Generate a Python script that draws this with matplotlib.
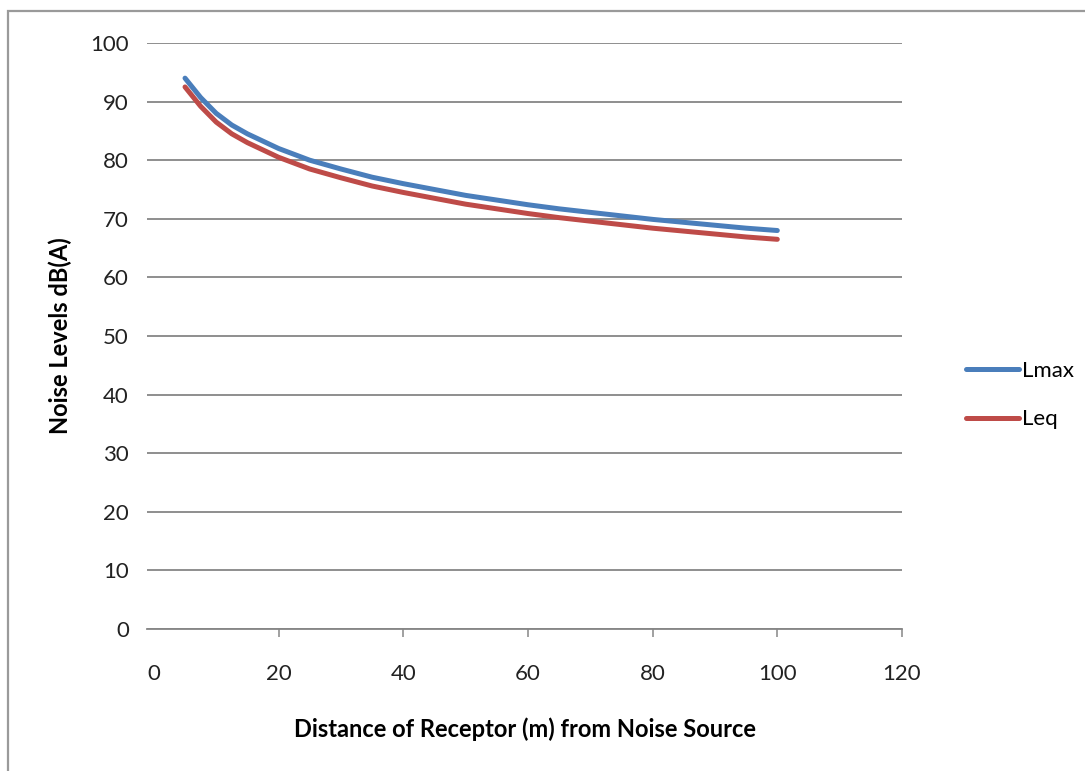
import matplotlib
matplotlib.use("Agg")
import matplotlib.pyplot as plt
from matplotlib.patches import Rectangle

# Data
distance = [5, 7.5, 10, 12.5, 15, 20, 25, 30, 35, 40, 45, 50, 55, 60, 65, 70, 75, 80, 85, 90, 95, 100]
lmax = [94.0, 90.7, 88.0, 86.0, 84.5, 82.0, 80.0, 78.5, 77.1, 76.0, 75.0, 74.0,
        73.2, 72.4, 71.7, 71.1, 70.5, 69.9, 69.4, 68.9, 68.4, 68.0]
leq = [92.5, 89.2, 86.5, 84.5, 83.0, 80.5, 78.5, 77.0, 75.6, 74.5, 73.5, 72.5,
       71.7, 70.9, 70.2, 69.6, 69.0, 68.4, 67.9, 67.4, 66.9, 66.5]
x_ticks = [0, 20, 40, 60, 80, 100, 120]
y_ticks = [0, 10, 20, 30, 40, 50, 60, 70, 80, 90, 100]
series_names = ["Lmax", "Leq"]

plt.rcParams['font.family'] = ['Lato', 'DejaVu Sans']

W, H = 1085, 771
fig = plt.figure(figsize=(W / 100, H / 100), dpi=100)
ax = fig.add_axes([147 / W, 1 - 629 / H, (902 - 147) / W, (629 - 43) / H])

blue = "#4A7EBB"
red = "#BE4B48"
ax.plot(distance, lmax, color=blue, lw=3.6, solid_capstyle="round", solid_joinstyle="round",
        label=series_names[0], zorder=3)
ax.plot(distance, leq, color=red, lw=3.6, solid_capstyle="round", solid_joinstyle="round",
        label=series_names[1], zorder=3)

ax.set_xlim(-1.1, 120)
ax.set_ylim(0, 100)
ax.set_xticks(x_ticks)
ax.set_yticks(y_ticks)

for s in ["top", "right", "left"]:
    ax.spines[s].set_visible(False)
ax.spines["bottom"].set_color("#868686")
ax.spines["bottom"].set_linewidth(1.3)

ax.yaxis.grid(True, color="#868686", lw=1.3)
ax.set_axisbelow(True)

ax.tick_params(axis="y", length=0, pad=13, labelsize=16, labelcolor="#222222")
ax.tick_params(axis="x", length=6, width=1.1, color="#868686", pad=19, labelsize=16, labelcolor="#222222")
ax.xaxis.get_major_ticks()[0].tick1line.set_visible(False)

ax.set_xlabel("Distance of Receptor (m) from Noise Source", fontsize=17, fontweight="bold", labelpad=24)
ax.set_ylabel("Noise Levels dB(A)", fontsize=17, fontweight="bold", labelpad=13)

leg = fig.legend(loc="center left", bbox_to_anchor=(955 / W, 1 - 395 / H), frameon=False, fontsize=16,
                 handlelength=2.4, handletextpad=0.1, labelspacing=1.3, borderpad=0)

fig.patches.append(Rectangle((8 / W, -0.02), 1.2, 1 - 11 / H + 0.02, transform=fig.transFigure,
                             fill=False, edgecolor="#9A9A9A", lw=1.6))

fig.savefig("out.png", dpi=100)
